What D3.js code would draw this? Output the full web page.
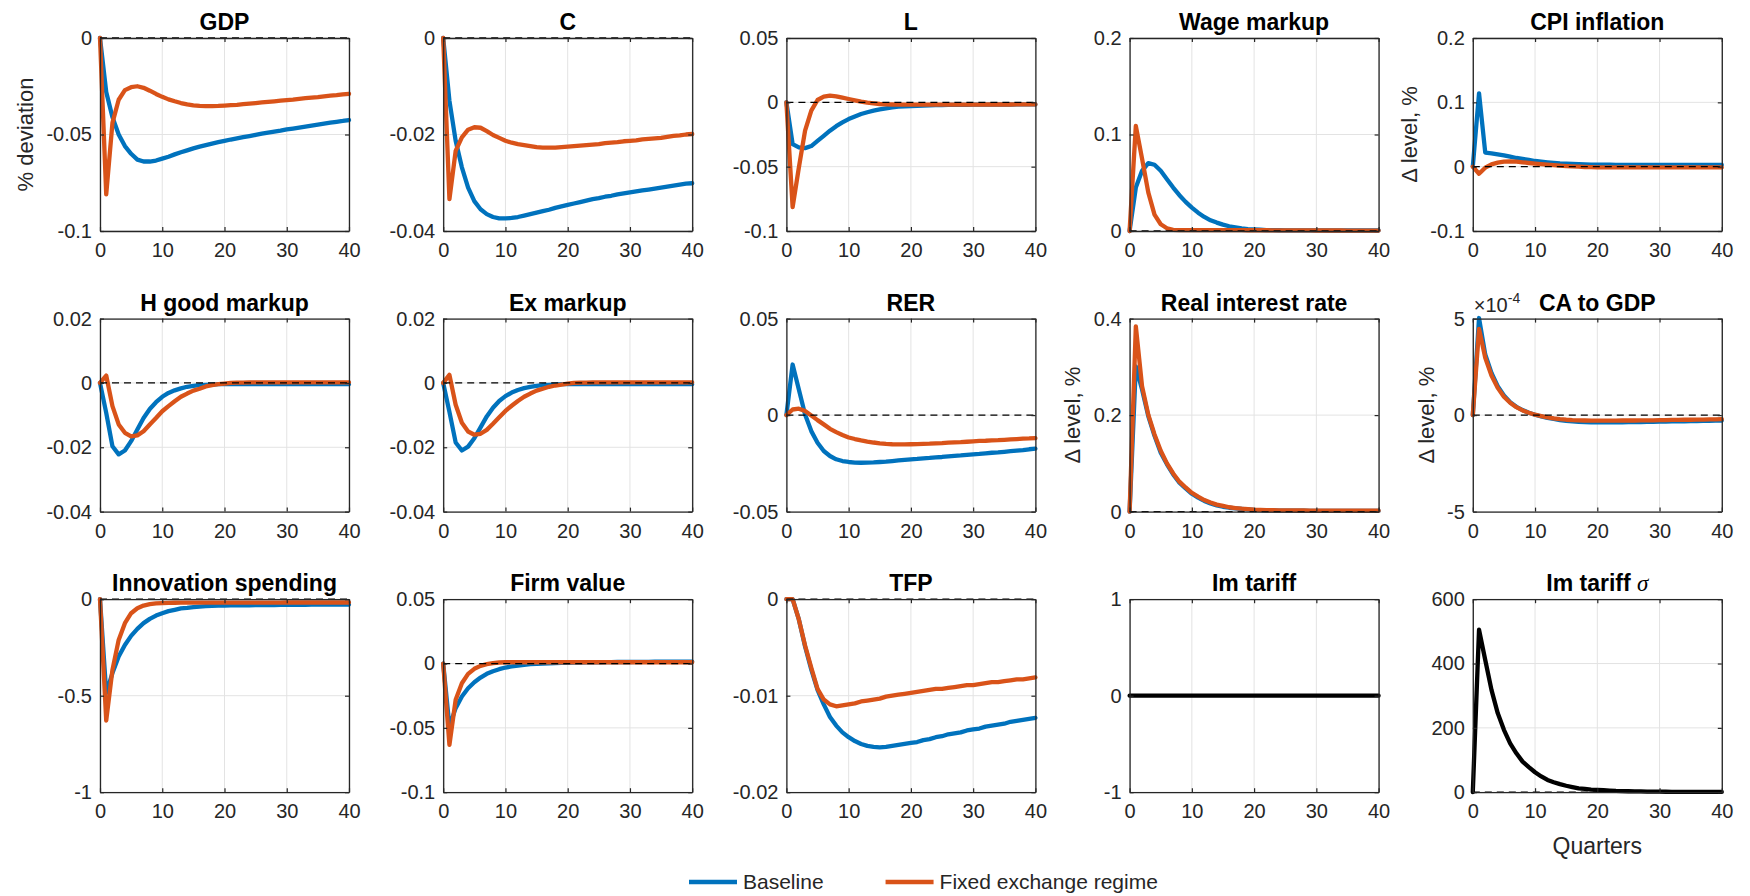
<!DOCTYPE html>
<html>
<head>
<meta charset="utf-8">
<script src="https://cdn.jsdelivr.net/npm/d3@7/dist/d3.min.js"></script>
<style>
  body { margin: 0; background: #fff; }
  svg { display: block; font-family: "Liberation Sans", Arial, Helvetica, sans-serif; }
</style>
</head>
<body>
<svg id="chart" width="1750" height="896"></svg>
<script>
// Quarters on the x axis (0..40)
const quarters = d3.range(0, 41);
const xTicks = [0, 10, 20, 30, 40];

// Impulse responses, one value per quarter
const gdpBase = [0, -0.028, -0.041, -0.050, -0.056, -0.060, -0.063, -0.064, -0.064, -0.0635, -0.0625,
  -0.0615, -0.0603, -0.0592, -0.0582, -0.0572, -0.0563, -0.0555, -0.0547, -0.054, -0.0533,
  -0.0526, -0.052, -0.0514, -0.0508, -0.0502, -0.0496, -0.049, -0.0485, -0.048, -0.0474,
  -0.0469, -0.0464, -0.0459, -0.0454, -0.0449, -0.0444, -0.0439, -0.0434, -0.043, -0.0425];
const gdpFixed = [0, -0.081, -0.044, -0.032, -0.027, -0.0255, -0.025, -0.0258, -0.0273, -0.029, -0.0305,
  -0.0318, -0.0328, -0.0337, -0.0344, -0.0349, -0.0352, -0.0353, -0.0353, -0.0352, -0.035,
  -0.0348, -0.0346, -0.0343, -0.034, -0.0337, -0.0334, -0.0331, -0.0328, -0.0325, -0.0322,
  -0.0319, -0.0315, -0.0312, -0.0309, -0.0306, -0.0302, -0.0299, -0.0296, -0.0292, -0.0289];

const cBase = [0, -0.013, -0.0213, -0.0268, -0.031, -0.0338, -0.0355, -0.0365, -0.0371, -0.0374, -0.0374,
  -0.0373, -0.0371, -0.0368, -0.0365, -0.0362, -0.0359, -0.0356, -0.0352, -0.0349, -0.0346,
  -0.0343, -0.034, -0.0337, -0.0334, -0.0332, -0.0329, -0.0327, -0.0324, -0.0322, -0.032,
  -0.0318, -0.0316, -0.0314, -0.0312, -0.031, -0.0308, -0.0306, -0.0304, -0.0302, -0.0301];
const cFixed = [0, -0.0334, -0.0234, -0.0206, -0.019, -0.0185, -0.0186, -0.0193, -0.0201, -0.0207, -0.0213,
  -0.0217, -0.022, -0.0222, -0.0224, -0.0226, -0.0227, -0.0227, -0.0227, -0.0226, -0.0225,
  -0.0224, -0.0223, -0.0222, -0.0221, -0.022, -0.0218, -0.0217, -0.0216, -0.0214, -0.0213,
  -0.0212, -0.021, -0.0209, -0.0208, -0.0207, -0.0205, -0.0203, -0.0202, -0.02, -0.0199];

const lBase = [0, -0.0325, -0.035, -0.0356, -0.034, -0.030, -0.026, -0.022, -0.0185, -0.0156, -0.013,
  -0.011, -0.0091, -0.0077, -0.0065, -0.0055, -0.0047, -0.004, -0.0034, -0.0031, -0.0029,
  -0.0027, -0.0025, -0.0023, -0.0022, -0.0021, -0.002, -0.002, -0.0019, -0.0019, -0.0018,
  -0.0018, -0.0018, -0.0017, -0.0017, -0.0017, -0.0017, -0.0016, -0.0016, -0.0016, -0.0016];
const lFixed = [0, -0.0814, -0.0507, -0.022, -0.0065, 0.0018, 0.0044, 0.0052, 0.0047, 0.0036, 0.0026,
  0.0016, 0.0005, -0.0003, -0.0008, -0.0013, -0.0016, -0.0017, -0.0018, -0.0018, -0.0018,
  -0.0018, -0.0018, -0.0018, -0.0018, -0.0018, -0.0018, -0.0018, -0.0018, -0.0018, -0.0018,
  -0.0018, -0.0017, -0.0017, -0.0017, -0.0017, -0.0017, -0.0016, -0.0016, -0.0016, -0.0016];

const wageBase = [0, 0.045, 0.0624, 0.0704, 0.0686, 0.0624, 0.0537, 0.045, 0.0371, 0.0302, 0.0243,
  0.019, 0.0146, 0.0111, 0.0087, 0.0066, 0.0049, 0.0038, 0.0028, 0.002, 0.0016,
  0.0013, 0.001, 0.0009, 0.0008, 0.0007, 0.0007, 0.0006, 0.0006, 0.0006, 0.0006,
  0.0006, 0.0005, 0.0005, 0.0005, 0.0005, 0.0005, 0.0005, 0.0005, 0.0005, 0.0005];
const wageFixed = [0, 0.109, 0.075, 0.040, 0.017, 0.007, 0.0028, 0.0012, 0.0009, 0.0009, 0.001,
  0.001, 0.001, 0.001, 0.001, 0.001, 0.0009, 0.0009, 0.0009, 0.0008, 0.0008,
  0.0008, 0.0008, 0.0007, 0.0007, 0.0007, 0.0007, 0.0006, 0.0006, 0.0006, 0.0005,
  0.0005, 0.0005, 0.0005, 0.0005, 0.0004, 0.0004, 0.0004, 0.0004, 0.0004, 0.0004];

const cpiBase = [0, 0.114, 0.0218, 0.0208, 0.0192, 0.0177, 0.0156, 0.0135, 0.012, 0.0104, 0.0088,
  0.0078, 0.0068, 0.006, 0.0052, 0.0047, 0.0042, 0.0039, 0.0036, 0.0033, 0.0031,
  0.003, 0.003, 0.0029, 0.0029, 0.0029, 0.0028, 0.0028, 0.0028, 0.0028, 0.0027,
  0.0027, 0.0027, 0.0027, 0.0027, 0.0026, 0.0026, 0.0026, 0.0026, 0.0026, 0.0026];
const cpiFixed = [0, -0.011, -0.0016, 0.0036, 0.0062, 0.0078, 0.0083, 0.0078, 0.0068, 0.0057, 0.0047,
  0.0039, 0.0031, 0.0023, 0.0016, 0.001, 0.0005, 0, -0.0005, -0.0008, -0.001,
  -0.0011, -0.0012, -0.0012, -0.0012, -0.0012, -0.0012, -0.0012, -0.0012, -0.0012, -0.0012,
  -0.0012, -0.0012, -0.0012, -0.0012, -0.0012, -0.0012, -0.0012, -0.0012, -0.0012, -0.0012];

const hMarkupBase = [0, -0.0093, -0.0197, -0.0222, -0.021, -0.0181, -0.0145, -0.0109, -0.0081, -0.006, -0.0043,
  -0.0031, -0.0023, -0.0017, -0.0012, -0.0009, -0.0007, -0.0006, -0.0005, -0.0004, -0.0004,
  -0.0004, -0.0004, -0.0004, -0.0004, -0.0004, -0.0004, -0.0004, -0.0004, -0.0004, -0.0004,
  -0.0004, -0.0004, -0.0004, -0.0004, -0.0004, -0.0004, -0.0004, -0.0004, -0.0004, -0.0004];
const hMarkupFixed = [0, 0.0023, -0.0072, -0.0129, -0.0155, -0.0166, -0.0163, -0.015, -0.0129, -0.0109, -0.0088,
  -0.0072, -0.0057, -0.0043, -0.0033, -0.0024, -0.0018, -0.0011, -0.0007, -0.0004, -0.0002,
  0, 0.0001, 0.0001, 0.0002, 0.0002, 0.0002, 0.0002, 0.0002, 0.0002, 0.0002,
  0.0002, 0.0002, 0.0002, 0.0002, 0.0002, 0.0002, 0.0002, 0.0002, 0.0002, 0.0002];

const exMarkupBase = [0, -0.009, -0.0185, -0.021, -0.0198, -0.0172, -0.0138, -0.0104, -0.0077, -0.0056, -0.0041,
  -0.003, -0.0022, -0.0016, -0.0012, -0.0009, -0.0007, -0.0006, -0.0005, -0.0004, -0.0004,
  -0.0004, -0.0004, -0.0004, -0.0004, -0.0004, -0.0004, -0.0004, -0.0004, -0.0004, -0.0004,
  -0.0004, -0.0004, -0.0004, -0.0004, -0.0004, -0.0004, -0.0004, -0.0004, -0.0004, -0.0004];
const exMarkupFixed = [0, 0.0025, -0.0068, -0.0124, -0.0151, -0.0161, -0.0158, -0.0146, -0.0127, -0.0107, -0.0087,
  -0.0071, -0.0056, -0.0043, -0.0033, -0.0024, -0.0018, -0.0012, -0.0008, -0.0005, -0.0002,
  0, 0.0001, 0.0001, 0.0002, 0.0002, 0.0002, 0.0002, 0.0002, 0.0002, 0.0002,
  0.0002, 0.0002, 0.0002, 0.0002, 0.0002, 0.0002, 0.0002, 0.0002, 0.0002, 0.0002];

const rerBase = [0, 0.0262, 0.0133, 0.0003, -0.0083, -0.0143, -0.0186, -0.0212, -0.0229, -0.0238, -0.0243,
  -0.0246, -0.0247, -0.0246, -0.0245, -0.0243, -0.0241, -0.0238, -0.0235, -0.0232, -0.0229,
  -0.0227, -0.0224, -0.0222, -0.0219, -0.0217, -0.0214, -0.0211, -0.0209, -0.0206, -0.0203,
  -0.0201, -0.0198, -0.0195, -0.0193, -0.019, -0.0187, -0.0184, -0.0181, -0.0177, -0.0174];
const rerFixed = [0, 0.0029, 0.0033, 0.0021, -0.0002, -0.0026, -0.0048, -0.0071, -0.0088, -0.0103, -0.0116,
  -0.0124, -0.0131, -0.0137, -0.0142, -0.0146, -0.0149, -0.0151, -0.0152, -0.0152, -0.0151,
  -0.015, -0.0149, -0.0148, -0.0146, -0.0145, -0.0143, -0.0141, -0.014, -0.0138, -0.0136,
  -0.0134, -0.0133, -0.0131, -0.013, -0.0128, -0.0126, -0.0124, -0.0122, -0.0121, -0.0119];

const rirBase = [0, 0.301, 0.253, 0.198, 0.157, 0.122, 0.098, 0.077, 0.060, 0.048, 0.037,
  0.029, 0.022, 0.017, 0.013, 0.010, 0.008, 0.0067, 0.0055, 0.0045, 0.0035,
  0.003, 0.0027, 0.0024, 0.0022, 0.002, 0.0019, 0.0018, 0.0018, 0.0017, 0.0017,
  0.0016, 0.0016, 0.0016, 0.0015, 0.0015, 0.0015, 0.0015, 0.0014, 0.0014, 0.0014];
const rirFixed = [0, 0.384, 0.26, 0.201, 0.16, 0.126, 0.1, 0.079, 0.062, 0.05, 0.039,
  0.031, 0.024, 0.019, 0.0145, 0.0117, 0.009, 0.0074, 0.006, 0.005, 0.004,
  0.0035, 0.0031, 0.0028, 0.0026, 0.0025, 0.0024, 0.0023, 0.0023, 0.0022, 0.0022,
  0.0022, 0.0021, 0.0021, 0.0021, 0.0021, 0.002, 0.002, 0.002, 0.002, 0.002];

// CA to GDP, in units of 1e-4
const caBase = [0, 5.03, 3.14, 2.19, 1.5, 1.02, 0.67, 0.43, 0.26, 0.12, 0.02,
  -0.07, -0.14, -0.2, -0.26, -0.3, -0.33, -0.35, -0.36, -0.37, -0.38,
  -0.38, -0.38, -0.37, -0.37, -0.36, -0.36, -0.36, -0.35, -0.35, -0.34,
  -0.34, -0.33, -0.33, -0.32, -0.31, -0.31, -0.3, -0.3, -0.29, -0.28];
const caFixed = [0, 4.47, 2.97, 2.05, 1.41, 0.95, 0.64, 0.41, 0.24, 0.12, 0.02,
  -0.05, -0.12, -0.17, -0.21, -0.24, -0.26, -0.27, -0.28, -0.29, -0.29,
  -0.29, -0.29, -0.29, -0.28, -0.28, -0.28, -0.27, -0.27, -0.27, -0.26,
  -0.26, -0.25, -0.25, -0.24, -0.24, -0.23, -0.23, -0.22, -0.22, -0.21];

const innovBase = [0, -0.487, -0.383, -0.297, -0.237, -0.19, -0.154, -0.124, -0.102, -0.085, -0.0725,
  -0.062, -0.055, -0.048, -0.045, -0.041, -0.038, -0.036, -0.0345, -0.0337, -0.033,
  -0.0325, -0.032, -0.0317, -0.0313, -0.031, -0.0307, -0.0304, -0.0301, -0.0298, -0.0295,
  -0.0293, -0.029, -0.0288, -0.0286, -0.0284, -0.0282, -0.028, -0.0279, -0.0277, -0.0276];
const innovFixed = [0, -0.629, -0.366, -0.211, -0.124, -0.0725, -0.047, -0.033, -0.026, -0.022, -0.02,
  -0.019, -0.0185, -0.018, -0.018, -0.018, -0.018, -0.018, -0.018, -0.018, -0.018,
  -0.0178, -0.0177, -0.0176, -0.0175, -0.0175, -0.0174, -0.0174, -0.0173, -0.0173, -0.0172,
  -0.0172, -0.0172, -0.0171, -0.0171, -0.0171, -0.017, -0.017, -0.017, -0.017, -0.017];

const firmBase = [0, -0.049, -0.0347, -0.0256, -0.0192, -0.0145, -0.0109, -0.008, -0.006, -0.0044, -0.0031,
  -0.0023, -0.0016, -0.001, -0.0005, -0.0003, 0, 0.0002, 0.0004, 0.0005, 0.0006,
  0.0007, 0.0008, 0.0009, 0.001, 0.001, 0.0011, 0.0011, 0.0012, 0.0012, 0.0012,
  0.0013, 0.0013, 0.0013, 0.0014, 0.0014, 0.0014, 0.0014, 0.0015, 0.0015, 0.0015];
const firmFixed = [0, -0.0632, -0.0282, -0.0153, -0.008, -0.0041, -0.0018, -0.0005, 0.0003, 0.0008, 0.001,
  0.001, 0.001, 0.001, 0.001, 0.001, 0.001, 0.001, 0.001, 0.001, 0.001,
  0.001, 0.001, 0.001, 0.001, 0.001, 0.001, 0.001, 0.001, 0.001, 0.001,
  0.001, 0.001, 0.001, 0.001, 0.001, 0.001, 0.001, 0.001, 0.001, 0.001];

const tfpBase = [0, 0, -0.0021, -0.0049, -0.0073, -0.0094, -0.0109, -0.0122, -0.0131, -0.0138, -0.0143,
  -0.0147, -0.015, -0.0152, -0.0153, -0.01535, -0.0153, -0.0152, -0.0151, -0.015, -0.0149,
  -0.0148, -0.0146, -0.0145, -0.0143, -0.0142, -0.014, -0.0139, -0.0138, -0.0136, -0.0135,
  -0.0134, -0.0132, -0.0131, -0.013, -0.0129, -0.0127, -0.0126, -0.0125, -0.0124, -0.0123];
const tfpFixed = [0, 0, -0.0021, -0.0048, -0.0071, -0.0093, -0.0104, -0.0109, -0.0111, -0.011, -0.0109,
  -0.0108, -0.0106, -0.0105, -0.0104, -0.0103, -0.0101, -0.01, -0.0099, -0.0098, -0.0097,
  -0.0096, -0.0095, -0.0094, -0.0093, -0.0093, -0.0092, -0.0091, -0.009, -0.0089, -0.0089,
  -0.0088, -0.0087, -0.0086, -0.0086, -0.0085, -0.0084, -0.0083, -0.0083, -0.0082, -0.0081];

// Shock paths (black)
const imTariff = [0, 0, 0, 0, 0, 0, 0, 0, 0, 0, 0, 0, 0, 0, 0, 0, 0, 0, 0, 0, 0,
  0, 0, 0, 0, 0, 0, 0, 0, 0, 0, 0, 0, 0, 0, 0, 0, 0, 0, 0, 0];
const imTariffSigma = [0, 505, 411, 318, 246, 194, 152, 121, 95, 78, 62,
  49, 38, 31, 25, 20, 16, 12, 10, 8, 7,
  6, 5, 4, 3.5, 3, 2.6, 2.3, 2, 1.8, 1.6,
  1.4, 1.3, 1.2, 1.1, 1, 1, 1, 1, 1, 1];

// Panel titles, axes and labels (row by row)
const panelTitles = ['GDP', 'C', 'L', 'Wage markup', 'CPI inflation',
  'H good markup', 'Ex markup', 'RER', 'Real interest rate', 'CA to GDP',
  'Innovation spending', 'Firm value', 'TFP', 'Im tariff', 'Im tariff σ'];
const yDomains = [[-0.1, 0], [-0.04, 0], [-0.1, 0.05], [0, 0.2], [-0.1, 0.2],
  [-0.04, 0.02], [-0.04, 0.02], [-0.05, 0.05], [0, 0.4], [-5, 5],
  [-1, 0], [-0.1, 0.05], [-0.02, 0], [-1, 1], [0, 600]];
const yTicks = [[-0.1, -0.05, 0], [-0.04, -0.02, 0], [-0.1, -0.05, 0, 0.05], [0, 0.1, 0.2], [-0.1, 0, 0.1, 0.2],
  [-0.04, -0.02, 0, 0.02], [-0.04, -0.02, 0, 0.02], [-0.05, 0, 0.05], [0, 0.2, 0.4], [-5, 0, 5],
  [-1, -0.5, 0], [-0.1, -0.05, 0, 0.05], [-0.02, -0.01, 0], [-1, 0, 1], [0, 200, 400, 600]];
const yLabels = ['% deviation', '', '', '', 'Δ level, %',
  '', '', '', 'Δ level, %', 'Δ level, %',
  '', '', '', '', ''];
const panelSeries = [[gdpBase, gdpFixed], [cBase, cFixed], [lBase, lFixed], [wageBase, wageFixed], [cpiBase, cpiFixed],
  [hMarkupBase, hMarkupFixed], [exMarkupBase, exMarkupFixed], [rerBase, rerFixed], [rirBase, rirFixed], [caBase, caFixed],
  [innovBase, innovFixed], [firmBase, firmFixed], [tfpBase, tfpFixed], [imTariff], [imTariffSigma]];

const seriesNames = ['Baseline', 'Fixed exchange regime'];
const seriesColors = ['#0072BD', '#D95319'];
const shockColor = '#000000';

// Layout of the 3x5 grid of axes
const COLS = 5;
const LEFT0 = 100, COL_STEP = 343.2, AX_W = 249;
const TOP0 = 38, ROW_STEP = 280.6, AX_H = 193;
const AXIS_COLOR = '#262626';
const GRID_COLOR = '#e3e3e3';

const svg = d3.select('#chart');

panelTitles.forEach((title, i) => {
  const col = i % COLS, row = Math.floor(i / COLS);
  const left = LEFT0 + col * COL_STEP;
  const top = TOP0 + row * ROW_STEP;

  const x = d3.scaleLinear().domain([0, 40]).range([0, AX_W]);
  const y = d3.scaleLinear().domain(yDomains[i]).range([AX_H, 0]);

  const g = svg.append('g').attr('transform', `translate(${left},${top})`);

  // Grid
  g.selectAll('.gx').data(xTicks).join('line')
    .attr('x1', d => x(d)).attr('x2', d => x(d))
    .attr('y1', 0).attr('y2', AX_H)
    .attr('stroke', GRID_COLOR).attr('stroke-width', 1);
  g.selectAll('.gy').data(yTicks[i]).join('line')
    .attr('x1', 0).attr('x2', AX_W)
    .attr('y1', d => y(d)).attr('y2', d => y(d))
    .attr('stroke', GRID_COLOR).attr('stroke-width', 1);

  // Series lines
  const line = d3.line()
    .x((d, k) => x(quarters[k]))
    .y(d => y(d));
  const series = panelSeries[i];
  series.forEach((vals, s) => {
    g.append('path')
      .datum(vals)
      .attr('d', line)
      .attr('fill', 'none')
      .attr('stroke', series.length === 1 ? shockColor : seriesColors[s])
      .attr('stroke-width', 4.3)
      .attr('stroke-linejoin', 'round')
      .attr('stroke-linecap', 'round');
  });

  // Zero reference line
  g.append('line')
    .attr('x1', 0).attr('x2', AX_W)
    .attr('y1', y(0)).attr('y2', y(0))
    .attr('stroke', '#000').attr('stroke-width', 1.3)
    .attr('stroke-dasharray', '7,5');

  // Axes: bottom/left with labels, top/right as plain box
  const xAxis = g.append('g').attr('transform', `translate(0,${AX_H})`)
    .call(d3.axisBottom(x).tickValues(xTicks).tickSizeInner(-4).tickSizeOuter(0).tickPadding(12));
  const yAxis = g.append('g')
    .call(d3.axisLeft(y).tickValues(yTicks[i]).tickFormat(d => String(d)).tickSizeInner(-4).tickSizeOuter(0).tickPadding(8));
  g.append('g')
    .call(d3.axisTop(x).tickValues(xTicks).tickFormat('').tickSizeInner(-4).tickSizeOuter(0));
  g.append('g').attr('transform', `translate(${AX_W},0)`)
    .call(d3.axisRight(y).tickValues(yTicks[i]).tickFormat('').tickSizeInner(-4).tickSizeOuter(0));

  g.selectAll('.domain').attr('stroke', AXIS_COLOR).attr('stroke-width', 1.3);
  g.selectAll('.tick line').attr('stroke', AXIS_COLOR).attr('stroke-width', 1.2);
  g.selectAll('.tick text')
    .attr('fill', AXIS_COLOR)
    .style('font-size', '20px')
    .style('font-family', '"Liberation Sans", Arial, sans-serif');
  xAxis.selectAll('.tick text').attr('dy', '0.71em');

  // Title
  const t = g.append('text')
    .attr('x', AX_W / 2).attr('y', -8)
    .attr('text-anchor', 'middle')
    .style('font-size', '23px').style('font-weight', 'bold')
    .attr('fill', '#000');
  if (title.endsWith('σ')) {
    t.append('tspan').text(title.slice(0, -1));
    t.append('tspan').text('σ')
      .style('font-style', 'italic').style('font-weight', 'normal')
      .style('font-family', '"Liberation Serif", "DejaVu Serif", serif');
  } else {
    t.text(title);
  }

  // Exponent marker for the CA panel
  if (title === 'CA to GDP') {
    const ex = g.append('text').attr('x', 1).attr('y', -7)
      .attr('fill', AXIS_COLOR).style('font-size', '20px');
    ex.append('tspan').text('×10');
    ex.append('tspan').text('-4').attr('dy', -9).style('font-size', '14px');
  }

  // Y label, placed just left of the widest tick label
  if (yLabels[i]) {
    let maxW = 0;
    yAxis.selectAll('.tick text').each(function() {
      maxW = Math.max(maxW, this.getComputedTextLength());
    });
    const cx = -(8 + maxW + 21);
    g.append('text')
      .attr('transform', `translate(${cx},${AX_H / 2}) rotate(-90)`)
      .attr('text-anchor', 'middle')
      .attr('dominant-baseline', 'central')
      .attr('fill', AXIS_COLOR)
      .style('font-size', '22px')
      .text(yLabels[i]);
  }

  // X label only under the last panel
  if (i === panelTitles.length - 1) {
    g.append('text')
      .attr('x', AX_W / 2).attr('y', AX_H + 62)
      .attr('text-anchor', 'middle')
      .attr('fill', AXIS_COLOR)
      .style('font-size', '23px')
      .text('Quarters');
  }
});

// Legend along the bottom
const legend = svg.append('g').attr('transform', 'translate(689,882)');
let lx = 0;
seriesNames.forEach((name, s) => {
  legend.append('line')
    .attr('x1', lx).attr('x2', lx + 48)
    .attr('y1', 0).attr('y2', 0)
    .attr('stroke', seriesColors[s]).attr('stroke-width', 4.3);
  const txt = legend.append('text')
    .attr('x', lx + 54).attr('y', 7)
    .attr('fill', AXIS_COLOR)
    .style('font-size', '21px')
    .text(name);
  lx += 54 + txt.node().getComputedTextLength() + 62;
});
</script>
</body>
</html>
